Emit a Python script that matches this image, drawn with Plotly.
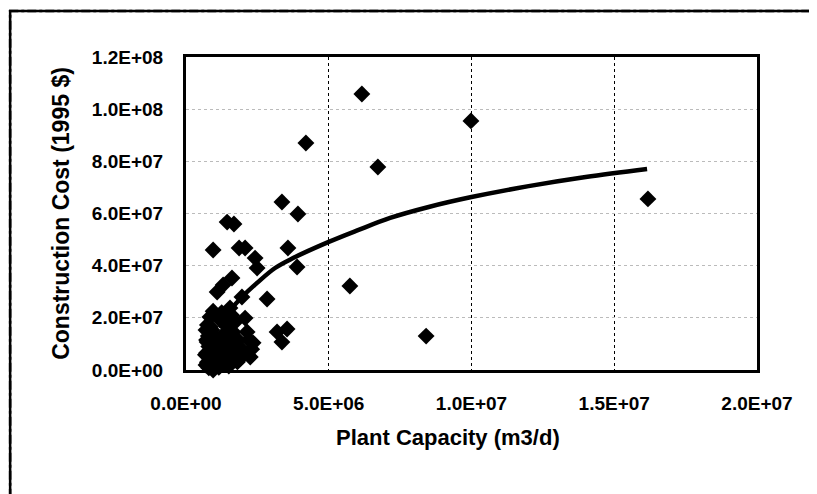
import plotly.graph_objects as go

# Plant capacity (m3/d) and construction cost (1995 $)
capacity = [6.16e6, 9.98e6, 4.20e6, 6.72e6, 16.18e6, 3.92e6, 3.36e6, 1.44e6, 1.68e6,
            0.95e6, 1.86e6, 2.07e6, 3.57e6, 2.42e6, 2.49e6, 3.89e6, 1.61e6, 1.30e6,
            1.09e6, 1.96e6, 2.84e6, 5.74e6, 8.41e6, 3.19e6, 3.54e6, 3.36e6,
            0.84e6, 1.54e6, 2.07e6, 2.35e6, 2.30e6, 1.80e6, 1.65e6, 0.74e6, 0.70e6,
            0.95e6, 1.30e6, 1.65e6, 2.14e6, 2.00e6, 0.68e6, 0.75e6, 1.19e6, 1.02e6,
            1.37e6, 0.80e6, 0.72e6, 1.12e6, 1.47e6, 1.72e6, 0.91e6, 0.70e6, 1.54e6,
            1.82e6, 1.33e6, 0.84e6, 0.75e6, 0.80e6, 1.00e6, 1.10e6, 1.20e6, 0.78e6,
            0.90e6, 1.40e6, 1.60e6, 1.75e6, 1.85e6, 2.20e6, 2.25e6, 0.85e6, 1.05e6,
            1.25e6, 0.72e6, 1.50e6, 1.15e6, 1.35e6, 0.95e6, 1.90e6]
cost = [10.58e7, 9.55e7, 8.70e7, 7.78e7, 6.56e7, 5.98e7, 6.44e7, 5.67e7, 5.60e7,
        4.60e7, 4.68e7, 4.68e7, 4.68e7, 4.29e7, 3.91e7, 3.95e7, 3.53e7, 3.26e7,
        2.99e7, 2.80e7, 2.72e7, 3.22e7, 1.30e7, 1.46e7, 1.57e7, 1.07e7,
        2.03e7, 2.38e7, 1.99e7, 1.04e7, 0.80e7, 0.31e7, 0.58e7, 1.07e7, 0.19e7,
        0.00e7, 1.34e7, 1.46e7, 1.46e7, 0.69e7, 0.58e7, 1.73e7, 1.92e7, 0.77e7,
        0.31e7, 0.08e7, 1.15e7, 0.96e7, 0.77e7, 1.84e7, 1.53e7, 1.53e7, 1.07e7,
        1.15e7, 0.38e7, 0.38e7, 0.30e7, 0.90e7, 0.50e7, 1.20e7, 0.60e7, 1.30e7,
        0.20e7, 1.70e7, 2.10e7, 1.20e7, 0.90e7, 1.15e7, 0.50e7, 1.65e7, 1.00e7,
        2.20e7, 0.65e7, 0.15e7, 0.10e7, 2.05e7, 2.25e7, 0.45e7]

# Trend line points
trend_x = [1.2e6, 1.6e6, 1.96e6, 2.5e6, 3.12e6, 3.75e6, 5.0e6, 6.0e6, 7.15e6,
           8.5e6, 10.0e6, 12.0e6, 14.0e6, 16.15e6]
trend_y = [1.67e7, 2.35e7, 2.80e7, 3.35e7, 3.91e7, 4.29e7, 4.91e7, 5.35e7, 5.83e7,
           6.25e7, 6.63e7, 7.05e7, 7.40e7, 7.71e7]

x_ticks = [0, 5e6, 1e7, 1.5e7, 2e7]
x_labels = ["0.0E+00", "5.0E+06", "1.0E+07", "1.5E+07", "2.0E+07"]
y_ticks = [0, 2e7, 4e7, 6e7, 8e7, 1e8, 1.2e8]
y_labels = ["0.0E+00", "2.0E+07", "4.0E+07", "6.0E+07", "8.0E+07", "1.0E+08", "1.2E+08"]

FONT = "Liberation Sans, Arial, sans-serif"

fig = go.Figure()
fig.add_trace(go.Scatter(
    x=capacity, y=cost, mode="markers",
    marker=dict(symbol="diamond", size=13, color="black"),
    cliponaxis=False, showlegend=False,
))
fig.add_trace(go.Scatter(
    x=trend_x, y=trend_y, mode="lines", line=dict(color="black", width=4.5, shape="spline"),
    showlegend=False,
))

# emphasised gridlines as they appear in the scan
fig.add_hline(y=4e7, line=dict(color="black", width=1.5))
fig.add_hline(y=1e8, line=dict(color="black", width=1.5, dash="dashdot"))

# page body adds an 8px offset; margins compensate so the plot area sits at 186..757 x 57..370
fig.update_layout(
    width=817, height=494,
    margin=dict(l=178, r=68, t=49, b=132),
    paper_bgcolor="white", plot_bgcolor="white",
    font=dict(family=FONT, color="black"),
    shapes=[dict(type="rect", xref="paper", yref="paper",
                 x0=-0.308, x1=1.096, y0=-0.6, y1=1.147,
                 line=dict(color="black", width=2.5), layer="below")],
    annotations=[dict(text="Plant Capacity (m3/d)", xref="paper", yref="paper",
                      x=0.459, y=0, xanchor="center", yanchor="middle", yshift=-67,
                      showarrow=False,
                      font=dict(size=22, family=FONT, weight="bold", color="black"))],
)
fig.update_xaxes(
    range=[0, 2e7], tickvals=x_ticks, ticktext=x_labels,
    tickfont=dict(size=19, family=FONT, weight="bold"),
    showline=True, linecolor="black", linewidth=3, mirror=True,
    showgrid=True, gridcolor="black", gridwidth=1, griddash="dot",
    zeroline=False, ticks="", ticklabelstandoff=14,
)
fig.update_yaxes(
    range=[0, 1.2e8], tickvals=y_ticks, ticktext=y_labels,
    tickfont=dict(size=19, family=FONT, weight="bold"),
    showline=True, linecolor="black", linewidth=3, mirror=True,
    showgrid=True, gridcolor="#bbbbbb", gridwidth=1, griddash="dot",
    zeroline=False, ticks="", ticklabelstandoff=16,
    title=dict(text="Construction Cost (1995 $)", font=dict(size=23, family=FONT, weight="bold"),
               standoff=16),
)

fig.write_html("out.html")
